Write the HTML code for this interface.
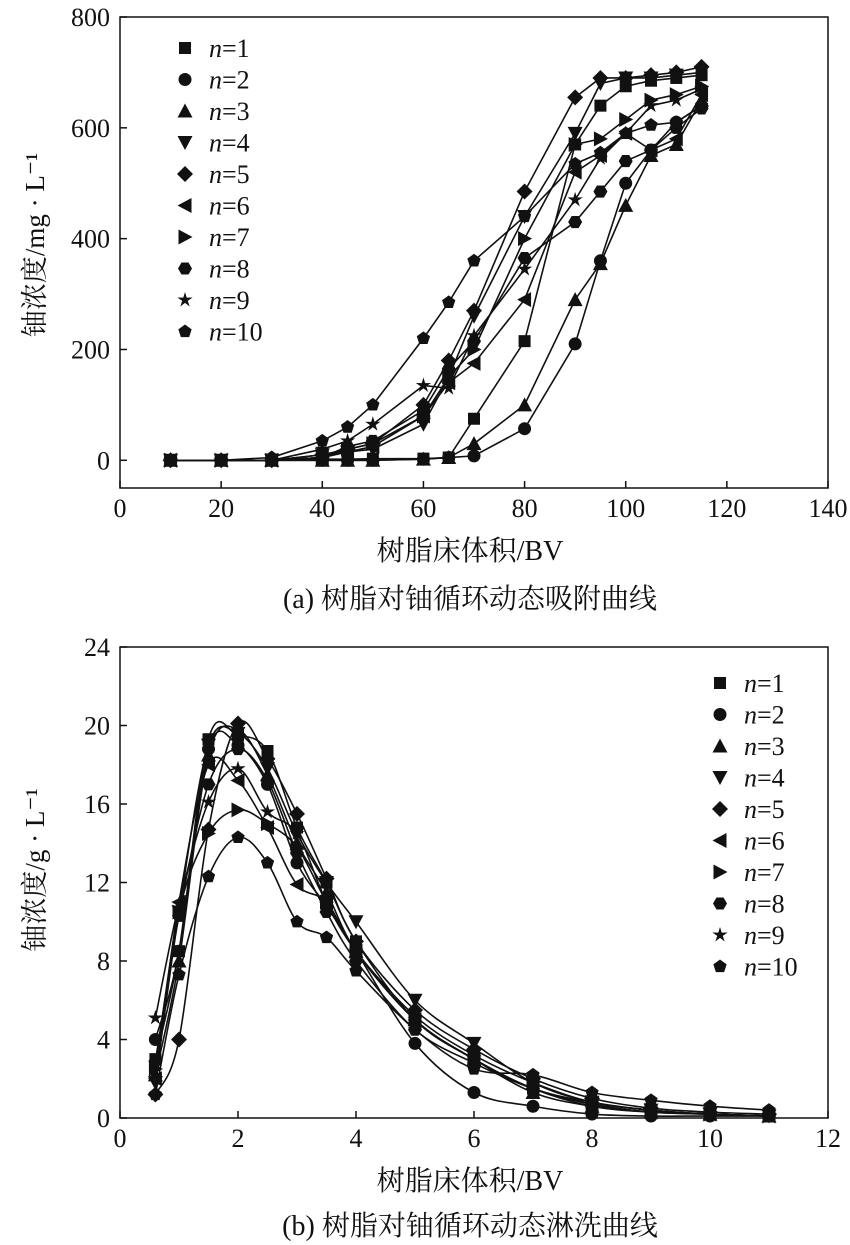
<!DOCTYPE html>
<html><head><meta charset="utf-8"><style>
body{margin:0;background:#fff;}
svg{display:block;font-family:"Liberation Serif","Noto Serif CJK SC",serif;}
</style></head><body>
<svg id="c" width="850" height="1245" viewBox="0 0 850 1245" xmlns="http://www.w3.org/2000/svg"></svg>
<script>
const seriesNames=["n=1","n=2","n=3","n=4","n=5","n=6","n=7","n=8","n=9","n=10"];
const aX=[10,20,30,40,45,50,60,65,70,80,90,95,100,105,110,115];
const aS1=[0,0,0,2,2,3,3,5,75,215,570,640,675,685,690,695];
const aS2=[0,0,0,0,0,0,2,5,8,57,210,360,500,560,610,640];
const aS3=[0,0,0,0,0,0,2,5,30,100,290,355,460,550,570,650];
const aS4=[0,0,0,10,15,20,65,150,260,440,590,680,690,690,695,700];
const aS5=[0,0,0,10,20,30,100,180,270,485,655,690,690,695,700,710];
const aS6=[0,0,0,5,15,25,80,140,175,290,520,550,590,560,580,660];
const aS7=[0,0,0,5,20,30,80,150,200,400,570,580,615,650,660,675];
const aS8=[0,0,0,5,25,35,90,165,215,365,430,485,540,560,600,635];
const aS9=[0,0,0,20,35,65,135,130,225,345,470,545,590,640,650,670];
const aS10=[0,0,5,35,60,100,220,285,360,440,535,555,590,605,610,640];
const aXTicks=[0,20,40,60,80,100,120,140];
const aYTicks=[0,200,400,600,800];
const bX=[0.6,1,1.5,2,2.5,3,3.5,4,5,6,7,8,9,10,11];
const bS1=[3,8.5,19.3,19.5,18.7,14.8,12,9,5,3,1.5,0.7,0.3,0.2,0.1];
const bS2=[4,8.5,18.8,19.0,17,13,10.8,8.5,3.8,1.3,0.6,0.2,0.1,0.1,0.1];
const bS3=[2.2,8,18.5,19.8,17.5,14,11.5,8.5,5,3,1.3,0.6,0.3,0.2,0.1];
const bS4=[1.8,10.5,19,19.6,17.8,14.5,12,10,6,3.8,1.8,0.8,0.4,0.2,0.1];
const bS5=[1.2,4,14.7,20.1,18.3,15.5,12.2,9,5.5,3.5,2,1,0.5,0.3,0.2];
const bS6=[2,11,18,17.2,14.8,11.9,11,8.5,5,3,1.5,0.6,0.3,0.2,0.1];
const bS7=[2.5,10.5,14.5,15.7,15,13.8,11,8.5,5.2,3.2,1.8,0.8,0.4,0.2,0.1];
const bS8=[2.9,10.3,17,18.8,17.2,13.5,10.5,8,4.5,2.8,1.5,0.7,0.3,0.2,0.1];
const bS9=[5.1,10.9,16.1,17.8,15.6,14.5,11,8.5,5,3,1.5,0.8,0.4,0.2,0.1];
const bS10=[1.2,7.3,12.3,14.3,13,10,9.2,7.5,4.5,2.5,2.2,1.3,0.9,0.6,0.4];
const bXTicks=[0,2,4,6,8,10,12];
const bYTicks=[0,4,8,12,16,20,24];

const NS="http://www.w3.org/2000/svg";
const svg=document.getElementById('c');
function mk(tag,attrs,parent){const e=document.createElementNS(NS,tag);for(const k in attrs)e.setAttribute(k,attrs[k]);(parent||svg).appendChild(e);return e;}
function marker(i,x,y,g){
  const s=6.5;let e;
  if(i===0)e=mk('rect',{x:x-s+0.5,y:y-s+0.5,width:2*s-1,height:2*s-1},g);
  else if(i===1)e=mk('circle',{cx:x,cy:y,r:s},g);
  else{
    let pts;
    if(i===2)pts=[[0,-s-1],[s+1,s],[-s-1,s]];
    else if(i===3)pts=[[0,s+1],[s+1,-s],[-s-1,-s]];
    else if(i===4)pts=[[0,-s-1.5],[s+1.5,0],[0,s+1.5],[-s-1.5,0]];
    else if(i===5)pts=[[-s-1,0],[s,-s-1],[s,s+1]];
    else if(i===6)pts=[[s+1,0],[-s,-s-1],[-s,s+1]];
    else if(i===7){pts=[];for(let k=0;k<6;k++){const a=Math.PI/3*k;pts.push([Math.cos(a)*(s+0.5),Math.sin(a)*(s+0.5)]);}}
    else if(i===8){pts=[];for(let k=0;k<10;k++){const a=-Math.PI/2+Math.PI/5*k,r=k%2?s*0.45:s+1.5;pts.push([Math.cos(a)*r,Math.sin(a)*r]);}}
    else {pts=[];for(let k=0;k<5;k++){const a=-Math.PI/2+2*Math.PI/5*k;pts.push([Math.cos(a)*(s+0.5),Math.sin(a)*(s+0.5)]);}}
    e=mk('polygon',{points:pts.map(p=>(x+p[0])+','+(y+p[1])).join(' ')},g);
  }
  e.setAttribute('fill','#111');
  return e;
}
function smoothPath(P){
  let d='M'+P[0][0]+','+P[0][1];
  for(let i=0;i<P.length-1;i++){
    const p0=P[Math.max(0,i-1)],p1=P[i],p2=P[i+1],p3=P[Math.min(P.length-1,i+2)];
    const c1=[p1[0]+(p2[0]-p0[0])/6,p1[1]+(p2[1]-p0[1])/6];
    const c2=[p2[0]-(p3[0]-p1[0])/6,p2[1]-(p3[1]-p1[1])/6];
    d+=' C'+c1+' '+c2+' '+p2;
  }
  return d;
}
function chart(cfg){
  const {L,R,T,B,xmin,xmax,ymin,ymax,xt,yt,xs,ys,smooth,lx,ly,key}=cfg;
  const X=v=>L+(v-xmin)/(xmax-xmin)*(R-L);
  const Y=v=>B-(v-ymin)/(ymax-ymin)*(B-T);
  const g=mk('g',{});
  
  
  const frame=mk('rect',{x:L,y:T,width:R-L,height:B-T,fill:'none',stroke:'#111','stroke-width':1.5},g);
  
  
  xt.forEach(v=>{
    mk('line',{x1:X(v),x2:X(v),y1:B,y2:B-7,stroke:'#111','stroke-width':1.5},g);
    const t=mk('text',{x:X(v),y:B+29,'text-anchor':'middle','font-size':26,fill:'#111'},g);
    t.textContent=v;
    
    
  });
  yt.forEach(v=>{
    mk('line',{x1:L,x2:L+7,y1:Y(v),y2:Y(v),stroke:'#111','stroke-width':1.5},g);
    const t=mk('text',{x:L-10,y:Y(v)+9,'text-anchor':'end','font-size':26,fill:'#111'},g);
    t.textContent=v;
    
    
  });
  ys.forEach((arr,i)=>{
    const sg=mk('g',{},g);
    
    
    const P=arr.map((v,j)=>[X(xs[j]),Y(v)]);
    const d=smooth?smoothPath(P):'M'+P.map(p=>p.join(',')).join(' L');
    mk('path',{d:d,fill:'none',stroke:'#111','stroke-width':1.6},sg);
    P.forEach(p=>{const m=marker(i,p[0],p[1],sg);
      
      });
  });
  const lg=mk('g',{},g);
  
  
  seriesNames.forEach((n,i)=>{
    const y=ly+i*31.5;
    const e=mk('g',{},lg);
    
    
    marker(i,lx,y,e);
    const t=mk('text',{x:lx+24,y:y+9,'font-size':26,fill:'#111'},e);
    const it=mk('tspan',{'font-style':'italic'},t);it.textContent='n';
    const r=mk('tspan',{},t);r.textContent='='+n.slice(2);
  });
}
chart({key:'adsorption',L:120,R:828,T:17,B:488,xmin:0,xmax:140,ymin:-50,ymax:800,xt:aXTicks,yt:aYTicks,xs:aX,ys:[aS1,aS2,aS3,aS4,aS5,aS6,aS7,aS8,aS9,aS10],smooth:false,lx:185,ly:48});
chart({key:'elution',L:120,R:828,T:647,B:1118,xmin:0,xmax:12,ymin:0,ymax:24,xt:bXTicks,yt:bYTicks,xs:bX,ys:[bS1,bS2,bS3,bS4,bS5,bS6,bS7,bS8,bS9,bS10],smooth:true,lx:720,ly:683});
function txt(s,x,y,name,rot,size){
  const t=mk('text',{x:x,y:y,'text-anchor':'middle','font-size':size||28,fill:'#111'});
  if(rot)t.setAttribute('transform','rotate(-90 '+x+' '+y+')');
  t.textContent=s;
  
  
  return t;
}
txt('树脂床体积/BV',470,560,'adsorption-x-axis-title');
txt('(a) 树脂对铀循环动态吸附曲线',470,608,'adsorption-caption');
txt('铀浓度/mg · L⁻¹',44,245,'adsorption-y-axis-title',true,27);
txt('树脂床体积/BV',470,1190,'elution-x-axis-title');
txt('(b) 树脂对铀循环动态淋洗曲线',470,1235,'elution-caption');
txt('铀浓度/g · L⁻¹',44,870,'elution-y-axis-title',true,27);
</script>
</body></html>
